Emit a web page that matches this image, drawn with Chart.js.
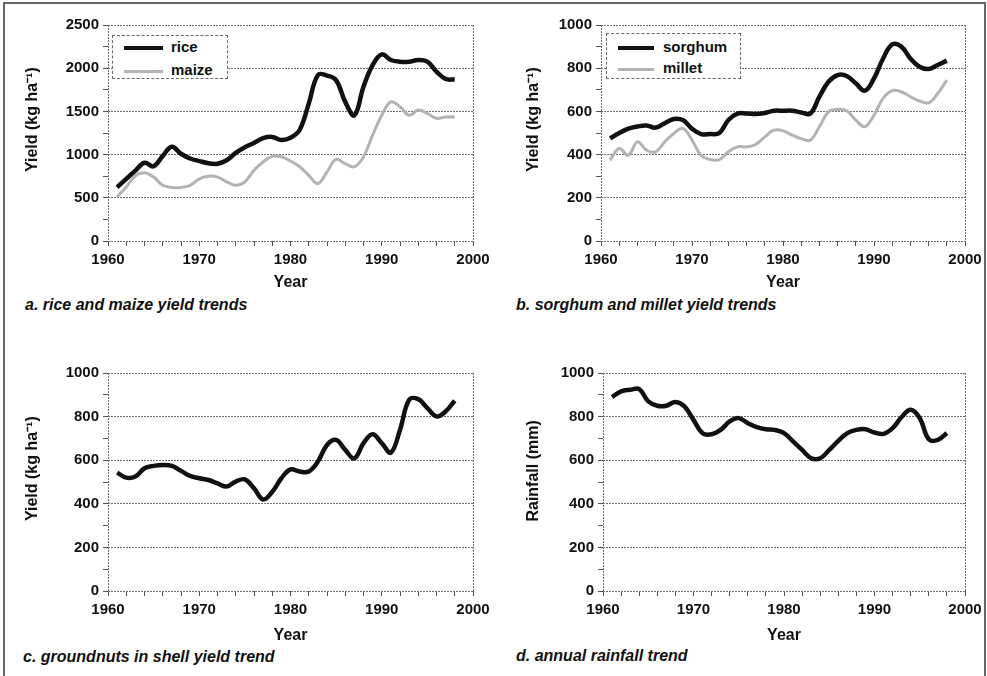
<!DOCTYPE html>
<html lang="en">
<head>
  <meta charset="UTF-8">
  <title>Crop yield and rainfall trends</title>
  <script src="https://cdn.jsdelivr.net/npm/chart.js"></script>
  <style>
    body { margin: 0; background: #fff; }
    #page { position: relative; width: 987px; height: 676px; overflow: hidden; background: #fff; }
    .frame {
      position: absolute; left: 3px; top: 2px; width: 983px; height: 720px;
      border: 2px solid #666; box-sizing: border-box;
    }
    canvas { position: absolute; }
    .caption {
      position: absolute; white-space: nowrap; color: #111;
      font: italic bold 16px "Liberation Sans", Arial, sans-serif; line-height: 18px;
    }
    .legend { position: absolute; border: 1px dashed #666; background: #fff; box-sizing: border-box; }
    .legend .sample { position: absolute; }
    .legend .label {
      position: absolute; white-space: nowrap; color: #111;
      font: bold 15px "Liberation Sans", Arial, sans-serif; line-height: 18px;
    }
  </style>
</head>
<body>
<div id="page">
  <div class="frame"></div>

  <canvas id="chart-a" width="477" height="280" style="left:23px; top:12px"></canvas>
  <canvas id="chart-b" width="463" height="280" style="left:524px; top:12px"></canvas>
  <canvas id="chart-c" width="477" height="285" style="left:23px; top:360px"></canvas>
  <canvas id="chart-d" width="463" height="285" style="left:524px; top:360px"></canvas>

  <div class="caption" style="left:25px; top:296px">a. rice and maize yield trends</div>
  <div class="caption" style="left:516px; top:296px">b. sorghum and millet yield trends</div>
  <div class="caption" style="left:23px; top:648px">c. groundnuts in shell yield trend</div>
  <div class="caption" style="left:516px; top:647px">d. annual rainfall trend</div>
</div>

<script>
// années (axe x)
const years = [1961, 1962, 1963, 1964, 1965, 1966, 1967, 1968, 1969, 1970,
               1971, 1972, 1973, 1974, 1975, 1976, 1977, 1978, 1979, 1980,
               1981, 1982, 1983, 1984, 1985, 1986, 1987, 1988, 1989, 1990,
               1991, 1992, 1993, 1994, 1995, 1996, 1997, 1998];
const xLabels = [1960, 1970, 1980, 1990, 2000];

// rendements (kg/ha) et pluie (mm)
const riceYield = [620, 720, 815, 905, 865, 985, 1090, 1010, 955, 925,
                   900, 895, 935, 1020, 1085, 1135, 1190, 1205, 1170, 1195,
                   1285, 1590, 1920, 1915, 1860, 1610, 1455, 1785, 2035, 2160,
                   2095, 2075, 2075, 2095, 2075, 1960, 1875, 1870];
const maizeYield = [510, 625, 755, 790, 740, 645, 620, 620, 645, 720,
                    750, 740, 685, 645, 685, 820, 915, 980, 975, 925,
                    860, 760, 665, 800, 945, 895, 860, 975, 1225, 1455,
                    1610, 1555, 1455, 1515, 1475, 1420, 1435, 1435];
const sorghumYield = [475, 500, 520, 530, 535, 525, 545, 565, 560, 520,
                      495, 495, 500, 560, 590, 590, 588, 593, 603, 603,
                      603, 595, 590, 668, 737, 768, 764, 730, 696, 753,
                      845, 910, 900, 845, 807, 796, 815, 835];
const milletYield = [374, 428, 397, 459, 420, 413, 459, 498, 521, 467,
                     397, 377, 377, 413, 436, 436, 447, 482, 513, 510,
                     490, 474, 467, 529, 598, 609, 603, 560, 529, 583,
                     660, 696, 691, 668, 648, 640, 683, 745];
const groundnutYield = [543, 520, 525, 563, 574, 578, 574, 551, 528, 517,
                        509, 494, 479, 502, 512, 471, 420, 455, 517, 558,
                        548, 548, 594, 670, 693, 647, 609, 678, 719, 678,
                        635, 739, 877, 880, 839, 801, 824, 873];
const rainfall = [890, 916, 923, 926, 870, 850, 850, 867, 847, 785,
                  724, 719, 739, 778, 793, 770, 752, 742, 739, 724,
                  686, 647, 609, 609, 647, 689, 724, 739, 742, 727,
                  721, 747, 798, 831, 793, 696, 693, 724];

const GRID = '#6e6e6e';
const TICK = '#555';
const INK = '#111';
Chart.defaults.font.family = '"Liberation Sans", Arial, sans-serif';
Chart.defaults.color = INK;

const points = vals => years.map((yr, i) => ({ x: yr, y: vals[i] }));

function line(label, vals, color, width) {
  return {
    label, data: points(vals),
    borderColor: color, backgroundColor: color, borderWidth: width,
    pointRadius: 0, tension: 0.4, fill: false
  };
}

// p : géométrie du panneau (largeur axe y, hauteur axe x, marges)
function makeChart(id, datasets, yTitle, yMax, yStep, yMajor, p) {
  return new Chart(document.getElementById(id), {
    type: 'line',
    data: { datasets },
    options: {
      responsive: false,
      animation: false,
      layout: { padding: { left: 0, top: 13, right: p.right, bottom: 0 } },
      plugins: { legend: { display: false }, tooltip: { enabled: false } },
      scales: {
        x: {
          type: 'linear', min: 1960, max: 2000,
          afterFit: s => { s.height = p.xHeight; },
          border: { display: false, dash: [2, 1] },
          grid: {
            color: c => (c.tick && (c.tick.value === 1960 || c.tick.value === 2000)) ? GRID : 'transparent',
            tickColor: TICK, tickLength: 5, tickBorderDash: []
          },
          ticks: {
            stepSize: 2, autoSkip: false, maxRotation: 0, padding: 5,
            font: { size: 15, weight: 'bold' },
            callback: v => xLabels.includes(v) ? String(v) : ''
          },
          title: { display: true, text: 'Year', padding: 0, font: { size: 16, weight: 'bold' } }
        },
        y: {
          min: 0, max: yMax,
          afterFit: s => { s.width = p.yWidth; },
          border: { display: false, dash: [2, 1] },
          grid: {
            color: c => (c.tick && c.tick.value % yMajor === 0) ? GRID : 'transparent',
            tickColor: TICK, tickLength: 5, tickBorderDash: []
          },
          ticks: {
            stepSize: yStep, autoSkip: false, padding: 4,
            font: { size: 15, weight: 'bold' },
            callback: v => v % yMajor === 0 ? String(v) : ''
          },
          title: { display: true, text: yTitle, padding: 0, font: { size: 16, weight: 'bold' } }
        }
      }
    }
  });
}

// légende dans la zone du graphe, construite depuis les jeux de données
function addLegend(chart, box) {
  const el = document.createElement('div');
  el.className = 'legend';
  Object.assign(el.style, {
    left: box.left + 'px', top: box.top + 'px',
    width: box.width + 'px', height: box.height + 'px'
  });
  chart.data.datasets.forEach((ds, i) => {
    const cy = box.rows[i];
    const s = document.createElement('div');
    s.className = 'sample';
    Object.assign(s.style, {
      left: box.sampleLeft + 'px', width: box.sampleWidth + 'px',
      top: (cy - ds.borderWidth / 2) + 'px', height: ds.borderWidth + 'px',
      background: ds.borderColor
    });
    const t = document.createElement('div');
    t.className = 'label';
    t.textContent = ds.label;
    Object.assign(t.style, { left: box.textLeft + 'px', top: (cy - 10) + 'px' });
    el.appendChild(s);
    el.appendChild(t);
  });
  document.getElementById('page').appendChild(el);
}

const yieldTitle = '      Yield (kg ha\u207B\u00B9)';

const chartA = makeChart('chart-a',
  [line('rice', riceYield, INK, 4.5), line('maize', maizeYield, '#b3b3b3', 3)],
  yieldTitle, 2500, 250, 500, { yWidth: 85, xHeight: 51, right: 27 });

const chartB = makeChart('chart-b',
  [line('sorghum', sorghumYield, INK, 4.5), line('millet', milletYield, '#b3b3b3', 3)],
  yieldTitle, 1000, 100, 200, { yWidth: 77, xHeight: 51, right: 22 });

makeChart('chart-c',
  [line('groundnuts in shell', groundnutYield, INK, 4.5)],
  yieldTitle, 1000, 100, 200, { yWidth: 85, xHeight: 54, right: 27 });

makeChart('chart-d',
  [line('rainfall', rainfall, INK, 4.5)],
  '     Rainfall (mm)', 1000, 100, 200, { yWidth: 79, xHeight: 54, right: 22 });

addLegend(chartA, { left: 112, top: 35, width: 116, height: 44,
  rows: [12, 35], sampleLeft: 11, sampleWidth: 39, textLeft: 58 });
addLegend(chartB, { left: 606, top: 33, width: 135, height: 46,
  rows: [14, 35], sampleLeft: 11, sampleWidth: 36, textLeft: 56 });
</script>
</body>
</html>
